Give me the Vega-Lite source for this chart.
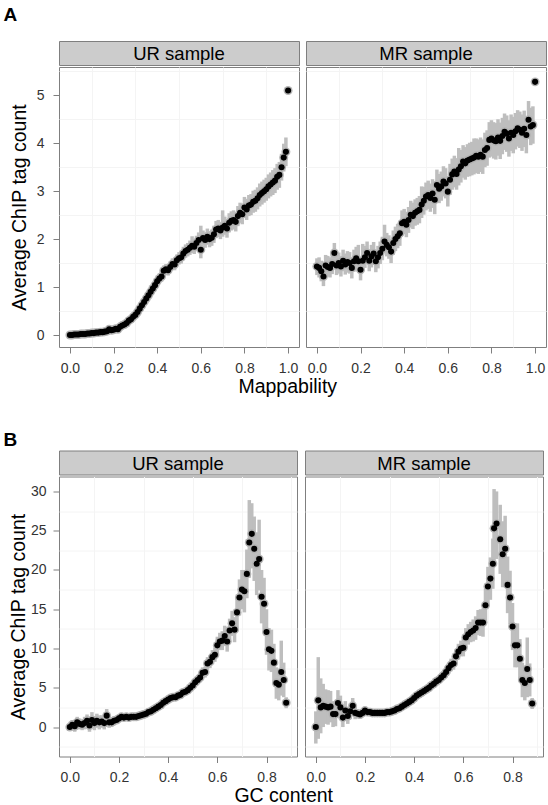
{
  "$schema": "https://vega.github.io/schema/vega-lite/v6.json",
  "background": "white",
  "padding": {"left": 3, "top": 5, "right": 2, "bottom": 0},
  "config": {
    "font": "Liberation Sans",
    "view": {"stroke": "#7f7f7f", "strokeWidth": 1},
    "axis": {
      "domain": false,
      "tickColor": "#7f7f7f",
      "tickSize": 6,
      "labelFontSize": 14,
      "labelColor": "#333333",
      "labelPadding": 9,
      "titleFontSize": 19.5,
      "titleFontWeight": "normal",
      "titleColor": "black",
      "titlePadding": 2,
      "gridColor": "#e6e6e6",
      "gridWidth": 1
    },
    "axisX": {"labelPadding": 8}
  },
  "datasets": {
    "map": [
      {"s":"UR","x":0.00,"y":0.00,"lo":-0.02,"hi":0.02},
      {"s":"UR","x":0.01,"y":0.00,"lo":-0.02,"hi":0.02},
      {"s":"UR","x":0.02,"y":0.01,"lo":-0.01,"hi":0.03},
      {"s":"UR","x":0.03,"y":0.01,"lo":-0.01,"hi":0.03},
      {"s":"UR","x":0.04,"y":0.01,"lo":-0.01,"hi":0.03},
      {"s":"UR","x":0.05,"y":0.02,"lo":0.00,"hi":0.04},
      {"s":"UR","x":0.06,"y":0.02,"lo":0.00,"hi":0.04},
      {"s":"UR","x":0.07,"y":0.02,"lo":0.00,"hi":0.04},
      {"s":"UR","x":0.08,"y":0.03,"lo":0.01,"hi":0.05},
      {"s":"UR","x":0.09,"y":0.03,"lo":0.01,"hi":0.05},
      {"s":"UR","x":0.10,"y":0.04,"lo":0.01,"hi":0.07},
      {"s":"UR","x":0.11,"y":0.04,"lo":0.01,"hi":0.07},
      {"s":"UR","x":0.12,"y":0.05,"lo":0.02,"hi":0.08},
      {"s":"UR","x":0.13,"y":0.05,"lo":0.02,"hi":0.08},
      {"s":"UR","x":0.14,"y":0.06,"lo":0.03,"hi":0.09},
      {"s":"UR","x":0.15,"y":0.06,"lo":0.03,"hi":0.09},
      {"s":"UR","x":0.16,"y":0.07,"lo":0.03,"hi":0.11},
      {"s":"UR","x":0.17,"y":0.08,"lo":0.04,"hi":0.12},
      {"s":"UR","x":0.18,"y":0.12,"lo":0.07,"hi":0.17},
      {"s":"UR","x":0.19,"y":0.10,"lo":0.05,"hi":0.15},
      {"s":"UR","x":0.20,"y":0.11,"lo":0.06,"hi":0.16},
      {"s":"UR","x":0.21,"y":0.13,"lo":0.08,"hi":0.18},
      {"s":"UR","x":0.22,"y":0.12,"lo":0.07,"hi":0.17},
      {"s":"UR","x":0.23,"y":0.17,"lo":0.11,"hi":0.23},
      {"s":"UR","x":0.24,"y":0.20,"lo":0.14,"hi":0.26},
      {"s":"UR","x":0.25,"y":0.22,"lo":0.16,"hi":0.28},
      {"s":"UR","x":0.26,"y":0.25,"lo":0.18,"hi":0.32},
      {"s":"UR","x":0.27,"y":0.30,"lo":0.23,"hi":0.37},
      {"s":"UR","x":0.28,"y":0.33,"lo":0.26,"hi":0.40},
      {"s":"UR","x":0.29,"y":0.38,"lo":0.30,"hi":0.46},
      {"s":"UR","x":0.30,"y":0.42,"lo":0.34,"hi":0.50},
      {"s":"UR","x":0.31,"y":0.48,"lo":0.40,"hi":0.56},
      {"s":"UR","x":0.32,"y":0.55,"lo":0.47,"hi":0.63},
      {"s":"UR","x":0.33,"y":0.62,"lo":0.53,"hi":0.71},
      {"s":"UR","x":0.34,"y":0.69,"lo":0.60,"hi":0.78},
      {"s":"UR","x":0.35,"y":0.76,"lo":0.67,"hi":0.85},
      {"s":"UR","x":0.36,"y":0.83,"lo":0.74,"hi":0.92},
      {"s":"UR","x":0.37,"y":0.90,"lo":0.81,"hi":0.99},
      {"s":"UR","x":0.38,"y":0.97,"lo":0.88,"hi":1.06},
      {"s":"UR","x":0.39,"y":1.04,"lo":0.94,"hi":1.14},
      {"s":"UR","x":0.40,"y":1.12,"lo":1.02,"hi":1.22},
      {"s":"UR","x":0.41,"y":1.18,"lo":1.08,"hi":1.28},
      {"s":"UR","x":0.42,"y":1.22,"lo":1.11,"hi":1.33},
      {"s":"UR","x":0.43,"y":1.34,"lo":1.23,"hi":1.45},
      {"s":"UR","x":0.44,"y":1.37,"lo":1.26,"hi":1.48},
      {"s":"UR","x":0.45,"y":1.35,"lo":1.24,"hi":1.46},
      {"s":"UR","x":0.46,"y":1.42,"lo":1.30,"hi":1.54},
      {"s":"UR","x":0.47,"y":1.48,"lo":1.36,"hi":1.60},
      {"s":"UR","x":0.48,"y":1.47,"lo":1.35,"hi":1.59},
      {"s":"UR","x":0.49,"y":1.56,"lo":1.44,"hi":1.68},
      {"s":"UR","x":0.50,"y":1.60,"lo":1.47,"hi":1.73},
      {"s":"UR","x":0.51,"y":1.62,"lo":1.49,"hi":1.75},
      {"s":"UR","x":0.52,"y":1.70,"lo":1.56,"hi":1.84},
      {"s":"UR","x":0.53,"y":1.75,"lo":1.61,"hi":1.89},
      {"s":"UR","x":0.54,"y":1.78,"lo":1.64,"hi":1.92},
      {"s":"UR","x":0.55,"y":1.82,"lo":1.67,"hi":1.97},
      {"s":"UR","x":0.56,"y":1.86,"lo":1.71,"hi":2.06},
      {"s":"UR","x":0.57,"y":1.84,"lo":1.69,"hi":1.99},
      {"s":"UR","x":0.58,"y":1.92,"lo":1.77,"hi":2.07},
      {"s":"UR","x":0.59,"y":1.98,"lo":1.82,"hi":2.14},
      {"s":"UR","x":0.60,"y":1.78,"lo":1.60,"hi":2.28},
      {"s":"UR","x":0.61,"y":2.02,"lo":1.86,"hi":2.18},
      {"s":"UR","x":0.62,"y":1.98,"lo":1.82,"hi":2.14},
      {"s":"UR","x":0.63,"y":2.05,"lo":1.88,"hi":2.22},
      {"s":"UR","x":0.64,"y":2.00,"lo":1.83,"hi":2.17},
      {"s":"UR","x":0.65,"y":2.03,"lo":1.86,"hi":2.20},
      {"s":"UR","x":0.66,"y":2.10,"lo":1.92,"hi":2.28},
      {"s":"UR","x":0.67,"y":2.20,"lo":2.02,"hi":2.38},
      {"s":"UR","x":0.68,"y":2.22,"lo":2.04,"hi":2.40},
      {"s":"UR","x":0.69,"y":2.18,"lo":2.00,"hi":2.36},
      {"s":"UR","x":0.70,"y":2.24,"lo":2.05,"hi":2.60},
      {"s":"UR","x":0.71,"y":2.28,"lo":2.09,"hi":2.47},
      {"s":"UR","x":0.72,"y":2.22,"lo":2.03,"hi":2.41},
      {"s":"UR","x":0.73,"y":2.34,"lo":2.14,"hi":2.54},
      {"s":"UR","x":0.74,"y":2.38,"lo":2.18,"hi":2.58},
      {"s":"UR","x":0.75,"y":2.40,"lo":2.20,"hi":2.60},
      {"s":"UR","x":0.76,"y":2.36,"lo":2.16,"hi":2.56},
      {"s":"UR","x":0.77,"y":2.48,"lo":2.27,"hi":2.69},
      {"s":"UR","x":0.78,"y":2.55,"lo":2.34,"hi":2.76},
      {"s":"UR","x":0.79,"y":2.52,"lo":2.31,"hi":2.73},
      {"s":"UR","x":0.80,"y":2.66,"lo":2.44,"hi":2.88},
      {"s":"UR","x":0.81,"y":2.62,"lo":2.40,"hi":2.84},
      {"s":"UR","x":0.82,"y":2.70,"lo":2.48,"hi":2.92},
      {"s":"UR","x":0.83,"y":2.72,"lo":2.50,"hi":2.94},
      {"s":"UR","x":0.84,"y":2.78,"lo":2.55,"hi":3.01},
      {"s":"UR","x":0.85,"y":2.80,"lo":2.57,"hi":3.03},
      {"s":"UR","x":0.86,"y":2.85,"lo":2.62,"hi":3.08},
      {"s":"UR","x":0.87,"y":2.92,"lo":2.68,"hi":3.16},
      {"s":"UR","x":0.88,"y":2.96,"lo":2.72,"hi":3.20},
      {"s":"UR","x":0.89,"y":3.00,"lo":2.76,"hi":3.24},
      {"s":"UR","x":0.90,"y":3.04,"lo":2.80,"hi":3.28},
      {"s":"UR","x":0.91,"y":3.10,"lo":2.85,"hi":3.35},
      {"s":"UR","x":0.92,"y":3.14,"lo":2.89,"hi":3.39},
      {"s":"UR","x":0.93,"y":3.18,"lo":2.92,"hi":3.44},
      {"s":"UR","x":0.94,"y":3.22,"lo":2.96,"hi":3.48},
      {"s":"UR","x":0.95,"y":3.30,"lo":3.03,"hi":3.57},
      {"s":"UR","x":0.96,"y":3.34,"lo":3.07,"hi":3.61},
      {"s":"UR","x":0.97,"y":3.50,"lo":3.22,"hi":3.78},
      {"s":"UR","x":0.98,"y":3.70,"lo":3.41,"hi":3.99},
      {"s":"UR","x":0.99,"y":3.82,"lo":3.52,"hi":4.12},
      {"s":"UR","x":1.00,"y":5.10,"lo":5.05,"hi":5.15},
      {"s":"MR","x":0.00,"y":1.43,"lo":1.25,"hi":1.60},
      {"s":"MR","x":0.01,"y":1.40,"lo":1.20,"hi":1.62},
      {"s":"MR","x":0.02,"y":1.33,"lo":1.12,"hi":1.55},
      {"s":"MR","x":0.03,"y":1.22,"lo":1.02,"hi":1.42},
      {"s":"MR","x":0.04,"y":1.45,"lo":1.25,"hi":1.67},
      {"s":"MR","x":0.05,"y":1.42,"lo":1.22,"hi":1.65},
      {"s":"MR","x":0.06,"y":1.40,"lo":1.20,"hi":1.62},
      {"s":"MR","x":0.07,"y":1.48,"lo":1.27,"hi":1.70},
      {"s":"MR","x":0.08,"y":1.71,"lo":1.50,"hi":1.92},
      {"s":"MR","x":0.09,"y":1.45,"lo":1.25,"hi":1.70},
      {"s":"MR","x":0.10,"y":1.50,"lo":1.28,"hi":1.72},
      {"s":"MR","x":0.11,"y":1.43,"lo":1.22,"hi":1.65},
      {"s":"MR","x":0.12,"y":1.55,"lo":1.33,"hi":1.78},
      {"s":"MR","x":0.13,"y":1.47,"lo":1.26,"hi":1.70},
      {"s":"MR","x":0.14,"y":1.52,"lo":1.30,"hi":1.75},
      {"s":"MR","x":0.15,"y":1.50,"lo":1.28,"hi":1.73},
      {"s":"MR","x":0.16,"y":1.40,"lo":1.18,"hi":1.62},
      {"s":"MR","x":0.17,"y":1.54,"lo":1.32,"hi":1.78},
      {"s":"MR","x":0.18,"y":1.60,"lo":1.38,"hi":1.84},
      {"s":"MR","x":0.19,"y":1.54,"lo":1.32,"hi":1.88},
      {"s":"MR","x":0.20,"y":1.36,"lo":1.14,"hi":1.58},
      {"s":"MR","x":0.21,"y":1.55,"lo":1.33,"hi":1.90},
      {"s":"MR","x":0.22,"y":1.62,"lo":1.40,"hi":1.86},
      {"s":"MR","x":0.23,"y":1.71,"lo":1.48,"hi":1.95},
      {"s":"MR","x":0.24,"y":1.55,"lo":1.33,"hi":1.78},
      {"s":"MR","x":0.25,"y":1.64,"lo":1.41,"hi":1.88},
      {"s":"MR","x":0.26,"y":1.70,"lo":1.47,"hi":1.94},
      {"s":"MR","x":0.27,"y":1.54,"lo":1.31,"hi":1.78},
      {"s":"MR","x":0.28,"y":1.62,"lo":1.39,"hi":1.86},
      {"s":"MR","x":0.29,"y":1.71,"lo":1.48,"hi":1.95},
      {"s":"MR","x":0.30,"y":1.80,"lo":1.56,"hi":2.05},
      {"s":"MR","x":0.31,"y":1.95,"lo":1.71,"hi":2.30},
      {"s":"MR","x":0.32,"y":1.88,"lo":1.64,"hi":2.13},
      {"s":"MR","x":0.33,"y":1.83,"lo":1.59,"hi":2.08},
      {"s":"MR","x":0.34,"y":1.74,"lo":1.50,"hi":1.99},
      {"s":"MR","x":0.35,"y":1.92,"lo":1.67,"hi":2.18},
      {"s":"MR","x":0.36,"y":2.00,"lo":1.75,"hi":2.26},
      {"s":"MR","x":0.37,"y":2.06,"lo":1.81,"hi":2.32},
      {"s":"MR","x":0.38,"y":2.12,"lo":1.86,"hi":2.38},
      {"s":"MR","x":0.39,"y":2.33,"lo":2.07,"hi":2.60},
      {"s":"MR","x":0.40,"y":2.36,"lo":2.10,"hi":2.63},
      {"s":"MR","x":0.41,"y":2.30,"lo":2.04,"hi":2.57},
      {"s":"MR","x":0.42,"y":2.40,"lo":2.13,"hi":2.67},
      {"s":"MR","x":0.43,"y":2.51,"lo":2.24,"hi":2.80},
      {"s":"MR","x":0.44,"y":2.48,"lo":2.21,"hi":2.76},
      {"s":"MR","x":0.45,"y":2.55,"lo":2.28,"hi":2.83},
      {"s":"MR","x":0.46,"y":2.58,"lo":2.30,"hi":2.86},
      {"s":"MR","x":0.47,"y":2.61,"lo":2.33,"hi":2.90},
      {"s":"MR","x":0.48,"y":2.72,"lo":2.44,"hi":3.10},
      {"s":"MR","x":0.49,"y":2.80,"lo":2.51,"hi":3.09},
      {"s":"MR","x":0.50,"y":2.89,"lo":2.60,"hi":3.18},
      {"s":"MR","x":0.51,"y":2.92,"lo":2.63,"hi":3.22},
      {"s":"MR","x":0.52,"y":2.86,"lo":2.57,"hi":3.16},
      {"s":"MR","x":0.53,"y":2.95,"lo":2.65,"hi":3.25},
      {"s":"MR","x":0.54,"y":2.82,"lo":2.52,"hi":3.12},
      {"s":"MR","x":0.55,"y":3.13,"lo":2.83,"hi":3.45},
      {"s":"MR","x":0.56,"y":3.05,"lo":2.75,"hi":3.36},
      {"s":"MR","x":0.57,"y":3.10,"lo":2.80,"hi":3.41},
      {"s":"MR","x":0.58,"y":3.20,"lo":2.89,"hi":3.52},
      {"s":"MR","x":0.59,"y":3.16,"lo":2.85,"hi":3.48},
      {"s":"MR","x":0.60,"y":2.99,"lo":2.68,"hi":3.31},
      {"s":"MR","x":0.61,"y":3.24,"lo":2.92,"hi":3.57},
      {"s":"MR","x":0.62,"y":3.35,"lo":3.03,"hi":3.68},
      {"s":"MR","x":0.63,"y":3.41,"lo":3.08,"hi":3.74},
      {"s":"MR","x":0.64,"y":3.36,"lo":3.03,"hi":3.69},
      {"s":"MR","x":0.65,"y":3.45,"lo":3.12,"hi":3.90},
      {"s":"MR","x":0.66,"y":3.52,"lo":3.18,"hi":3.86},
      {"s":"MR","x":0.67,"y":3.62,"lo":3.28,"hi":3.96},
      {"s":"MR","x":0.68,"y":3.58,"lo":3.24,"hi":3.92},
      {"s":"MR","x":0.69,"y":3.64,"lo":3.30,"hi":3.98},
      {"s":"MR","x":0.70,"y":3.66,"lo":3.31,"hi":4.01},
      {"s":"MR","x":0.71,"y":3.68,"lo":3.33,"hi":4.03},
      {"s":"MR","x":0.72,"y":3.70,"lo":3.35,"hi":4.10},
      {"s":"MR","x":0.73,"y":3.74,"lo":3.38,"hi":4.10},
      {"s":"MR","x":0.74,"y":3.72,"lo":3.36,"hi":4.08},
      {"s":"MR","x":0.75,"y":3.76,"lo":3.40,"hi":4.12},
      {"s":"MR","x":0.76,"y":3.72,"lo":3.36,"hi":4.08},
      {"s":"MR","x":0.77,"y":3.86,"lo":3.50,"hi":4.22},
      {"s":"MR","x":0.78,"y":3.90,"lo":3.53,"hi":4.27},
      {"s":"MR","x":0.79,"y":4.07,"lo":3.70,"hi":4.44},
      {"s":"MR","x":0.80,"y":4.10,"lo":3.72,"hi":4.48},
      {"s":"MR","x":0.81,"y":4.06,"lo":3.68,"hi":4.44},
      {"s":"MR","x":0.82,"y":4.04,"lo":3.66,"hi":4.42},
      {"s":"MR","x":0.83,"y":4.12,"lo":3.74,"hi":4.50},
      {"s":"MR","x":0.84,"y":4.05,"lo":3.67,"hi":4.43},
      {"s":"MR","x":0.85,"y":4.15,"lo":3.77,"hi":4.53},
      {"s":"MR","x":0.86,"y":4.24,"lo":3.86,"hi":4.62},
      {"s":"MR","x":0.87,"y":4.20,"lo":3.82,"hi":4.58},
      {"s":"MR","x":0.88,"y":4.10,"lo":3.72,"hi":4.48},
      {"s":"MR","x":0.89,"y":4.22,"lo":3.84,"hi":4.60},
      {"s":"MR","x":0.90,"y":4.17,"lo":3.79,"hi":4.55},
      {"s":"MR","x":0.91,"y":4.25,"lo":3.87,"hi":4.63},
      {"s":"MR","x":0.92,"y":4.31,"lo":3.93,"hi":4.69},
      {"s":"MR","x":0.93,"y":4.28,"lo":3.90,"hi":4.66},
      {"s":"MR","x":0.94,"y":4.22,"lo":3.84,"hi":4.60},
      {"s":"MR","x":0.95,"y":4.30,"lo":3.92,"hi":4.68},
      {"s":"MR","x":0.96,"y":4.17,"lo":3.79,"hi":4.55},
      {"s":"MR","x":0.97,"y":4.49,"lo":4.10,"hi":4.88},
      {"s":"MR","x":0.98,"y":4.35,"lo":3.96,"hi":4.74},
      {"s":"MR","x":0.99,"y":4.38,"lo":3.99,"hi":4.77},
      {"s":"MR","x":1.00,"y":5.28,"lo":5.23,"hi":5.33}
    ],
    "gc": [
      {"s":"UR","x":0.00,"y":0.0,"lo":-0.5,"hi":0.5},
      {"s":"UR","x":0.01,"y":0.3,"lo":-0.3,"hi":0.9},
      {"s":"UR","x":0.02,"y":0.1,"lo":-0.6,"hi":0.8},
      {"s":"UR","x":0.03,"y":0.6,"lo":-0.1,"hi":1.3},
      {"s":"UR","x":0.04,"y":0.4,"lo":-0.3,"hi":1.1},
      {"s":"UR","x":0.05,"y":0.3,"lo":-0.4,"hi":1.0},
      {"s":"UR","x":0.06,"y":0.5,"lo":-0.3,"hi":1.3},
      {"s":"UR","x":0.07,"y":0.8,"lo":0.0,"hi":1.6},
      {"s":"UR","x":0.08,"y":0.2,"lo":-0.6,"hi":1.0},
      {"s":"UR","x":0.09,"y":0.9,"lo":-0.1,"hi":1.9},
      {"s":"UR","x":0.10,"y":0.5,"lo":-0.4,"hi":1.4},
      {"s":"UR","x":0.11,"y":0.8,"lo":-0.1,"hi":1.7},
      {"s":"UR","x":0.12,"y":0.6,"lo":-0.3,"hi":1.5},
      {"s":"UR","x":0.13,"y":0.7,"lo":-0.1,"hi":1.5},
      {"s":"UR","x":0.14,"y":0.5,"lo":-0.3,"hi":1.3},
      {"s":"UR","x":0.15,"y":1.45,"lo":0.6,"hi":2.3},
      {"s":"UR","x":0.16,"y":0.6,"lo":-0.1,"hi":1.3},
      {"s":"UR","x":0.17,"y":0.6,"lo":0.0,"hi":1.2},
      {"s":"UR","x":0.18,"y":0.8,"lo":0.2,"hi":1.4},
      {"s":"UR","x":0.19,"y":0.9,"lo":0.4,"hi":1.4},
      {"s":"UR","x":0.20,"y":1.1,"lo":0.6,"hi":1.6},
      {"s":"UR","x":0.21,"y":1.3,"lo":0.9,"hi":1.7},
      {"s":"UR","x":0.22,"y":1.2,"lo":0.8,"hi":1.6},
      {"s":"UR","x":0.23,"y":1.3,"lo":0.9,"hi":1.7},
      {"s":"UR","x":0.24,"y":1.2,"lo":0.9,"hi":1.5},
      {"s":"UR","x":0.25,"y":1.3,"lo":1.0,"hi":1.6},
      {"s":"UR","x":0.26,"y":1.3,"lo":1.0,"hi":1.6},
      {"s":"UR","x":0.27,"y":1.3,"lo":1.0,"hi":1.6},
      {"s":"UR","x":0.28,"y":1.4,"lo":1.1,"hi":1.7},
      {"s":"UR","x":0.29,"y":1.5,"lo":1.2,"hi":1.8},
      {"s":"UR","x":0.30,"y":1.6,"lo":1.3,"hi":1.9},
      {"s":"UR","x":0.31,"y":1.7,"lo":1.4,"hi":2.0},
      {"s":"UR","x":0.32,"y":1.9,"lo":1.6,"hi":2.2},
      {"s":"UR","x":0.33,"y":2.0,"lo":1.7,"hi":2.3},
      {"s":"UR","x":0.34,"y":2.2,"lo":1.9,"hi":2.5},
      {"s":"UR","x":0.35,"y":2.4,"lo":2.1,"hi":2.7},
      {"s":"UR","x":0.36,"y":2.6,"lo":2.3,"hi":2.9},
      {"s":"UR","x":0.37,"y":2.8,"lo":2.5,"hi":3.1},
      {"s":"UR","x":0.38,"y":3.1,"lo":2.8,"hi":3.4},
      {"s":"UR","x":0.39,"y":3.3,"lo":3.0,"hi":3.6},
      {"s":"UR","x":0.40,"y":3.5,"lo":3.2,"hi":3.8},
      {"s":"UR","x":0.41,"y":3.7,"lo":3.3,"hi":4.1},
      {"s":"UR","x":0.42,"y":3.8,"lo":3.4,"hi":4.2},
      {"s":"UR","x":0.43,"y":3.8,"lo":3.4,"hi":4.2},
      {"s":"UR","x":0.44,"y":4.0,"lo":3.6,"hi":4.4},
      {"s":"UR","x":0.45,"y":4.1,"lo":3.7,"hi":4.5},
      {"s":"UR","x":0.46,"y":4.4,"lo":4.0,"hi":4.8},
      {"s":"UR","x":0.47,"y":4.5,"lo":4.1,"hi":4.9},
      {"s":"UR","x":0.48,"y":4.7,"lo":4.2,"hi":5.2},
      {"s":"UR","x":0.49,"y":5.0,"lo":4.5,"hi":5.5},
      {"s":"UR","x":0.50,"y":5.3,"lo":4.8,"hi":5.8},
      {"s":"UR","x":0.51,"y":5.7,"lo":5.2,"hi":6.2},
      {"s":"UR","x":0.52,"y":6.0,"lo":5.4,"hi":6.6},
      {"s":"UR","x":0.53,"y":6.3,"lo":5.7,"hi":6.9},
      {"s":"UR","x":0.54,"y":6.9,"lo":6.2,"hi":7.6},
      {"s":"UR","x":0.55,"y":7.0,"lo":6.3,"hi":7.7},
      {"s":"UR","x":0.56,"y":8.1,"lo":7.3,"hi":8.9},
      {"s":"UR","x":0.57,"y":8.3,"lo":7.5,"hi":9.1},
      {"s":"UR","x":0.58,"y":8.9,"lo":8.0,"hi":9.8},
      {"s":"UR","x":0.59,"y":9.2,"lo":8.3,"hi":10.1},
      {"s":"UR","x":0.60,"y":10.4,"lo":9.3,"hi":11.5},
      {"s":"UR","x":0.61,"y":10.9,"lo":9.8,"hi":12.0},
      {"s":"UR","x":0.62,"y":11.0,"lo":9.8,"hi":12.2},
      {"s":"UR","x":0.63,"y":11.6,"lo":10.3,"hi":12.9},
      {"s":"UR","x":0.64,"y":10.9,"lo":9.6,"hi":12.2},
      {"s":"UR","x":0.65,"y":12.3,"lo":10.8,"hi":13.8},
      {"s":"UR","x":0.66,"y":13.2,"lo":11.6,"hi":14.8},
      {"s":"UR","x":0.67,"y":12.4,"lo":10.8,"hi":14.0},
      {"s":"UR","x":0.68,"y":14.6,"lo":12.6,"hi":16.6},
      {"s":"UR","x":0.69,"y":16.5,"lo":14.2,"hi":18.8},
      {"s":"UR","x":0.70,"y":17.5,"lo":15.0,"hi":20.0},
      {"s":"UR","x":0.71,"y":17.3,"lo":14.6,"hi":20.0},
      {"s":"UR","x":0.72,"y":19.5,"lo":16.4,"hi":22.6},
      {"s":"UR","x":0.73,"y":23.5,"lo":19.0,"hi":28.9},
      {"s":"UR","x":0.74,"y":24.6,"lo":20.2,"hi":28.5},
      {"s":"UR","x":0.75,"y":22.7,"lo":18.6,"hi":26.8},
      {"s":"UR","x":0.76,"y":20.8,"lo":16.8,"hi":24.8},
      {"s":"UR","x":0.77,"y":21.4,"lo":17.4,"hi":26.4},
      {"s":"UR","x":0.78,"y":16.6,"lo":13.2,"hi":20.0},
      {"s":"UR","x":0.79,"y":15.7,"lo":12.4,"hi":19.0},
      {"s":"UR","x":0.80,"y":12.1,"lo":9.2,"hi":15.0},
      {"s":"UR","x":0.81,"y":9.9,"lo":7.2,"hi":12.6},
      {"s":"UR","x":0.82,"y":9.7,"lo":7.0,"hi":12.4},
      {"s":"UR","x":0.83,"y":8.2,"lo":5.8,"hi":10.6},
      {"s":"UR","x":0.84,"y":5.6,"lo":3.6,"hi":7.6},
      {"s":"UR","x":0.85,"y":5.4,"lo":3.4,"hi":7.4},
      {"s":"UR","x":0.86,"y":7.0,"lo":4.0,"hi":11.0},
      {"s":"UR","x":0.87,"y":6.0,"lo":3.8,"hi":8.2},
      {"s":"UR","x":0.88,"y":3.1,"lo":2.4,"hi":3.8},
      {"s":"MR","x":0.00,"y":0.0,"lo":-2.1,"hi":2.0},
      {"s":"MR","x":0.01,"y":3.4,"lo":-1.5,"hi":8.9},
      {"s":"MR","x":0.02,"y":2.5,"lo":-0.8,"hi":6.2},
      {"s":"MR","x":0.03,"y":2.7,"lo":0.0,"hi":5.5},
      {"s":"MR","x":0.04,"y":2.6,"lo":0.4,"hi":4.8},
      {"s":"MR","x":0.05,"y":2.5,"lo":0.3,"hi":4.7},
      {"s":"MR","x":0.06,"y":2.6,"lo":0.6,"hi":4.6},
      {"s":"MR","x":0.07,"y":1.65,"lo":0.0,"hi":3.3},
      {"s":"MR","x":0.08,"y":1.65,"lo":0.1,"hi":3.2},
      {"s":"MR","x":0.09,"y":3.06,"lo":1.4,"hi":4.7},
      {"s":"MR","x":0.10,"y":2.5,"lo":1.0,"hi":4.0},
      {"s":"MR","x":0.11,"y":1.2,"lo":0.0,"hi":2.4},
      {"s":"MR","x":0.12,"y":2.1,"lo":0.9,"hi":3.3},
      {"s":"MR","x":0.13,"y":1.4,"lo":0.4,"hi":2.4},
      {"s":"MR","x":0.14,"y":2.0,"lo":1.0,"hi":3.0},
      {"s":"MR","x":0.15,"y":2.7,"lo":1.7,"hi":3.7},
      {"s":"MR","x":0.16,"y":1.8,"lo":1.0,"hi":2.6},
      {"s":"MR","x":0.17,"y":1.7,"lo":1.1,"hi":2.3},
      {"s":"MR","x":0.18,"y":1.6,"lo":1.1,"hi":2.1},
      {"s":"MR","x":0.19,"y":1.8,"lo":1.4,"hi":2.2},
      {"s":"MR","x":0.20,"y":2.1,"lo":1.7,"hi":2.5},
      {"s":"MR","x":0.21,"y":1.9,"lo":1.6,"hi":2.2},
      {"s":"MR","x":0.22,"y":1.9,"lo":1.6,"hi":2.2},
      {"s":"MR","x":0.23,"y":1.8,"lo":1.5,"hi":2.1},
      {"s":"MR","x":0.24,"y":1.8,"lo":1.5,"hi":2.1},
      {"s":"MR","x":0.25,"y":1.8,"lo":1.5,"hi":2.1},
      {"s":"MR","x":0.26,"y":1.8,"lo":1.5,"hi":2.1},
      {"s":"MR","x":0.27,"y":1.8,"lo":1.5,"hi":2.1},
      {"s":"MR","x":0.28,"y":1.8,"lo":1.5,"hi":2.1},
      {"s":"MR","x":0.29,"y":1.9,"lo":1.6,"hi":2.2},
      {"s":"MR","x":0.30,"y":1.9,"lo":1.6,"hi":2.2},
      {"s":"MR","x":0.31,"y":2.0,"lo":1.7,"hi":2.3},
      {"s":"MR","x":0.32,"y":2.1,"lo":1.8,"hi":2.4},
      {"s":"MR","x":0.33,"y":2.3,"lo":2.0,"hi":2.6},
      {"s":"MR","x":0.34,"y":2.4,"lo":2.1,"hi":2.7},
      {"s":"MR","x":0.35,"y":2.6,"lo":2.3,"hi":2.9},
      {"s":"MR","x":0.36,"y":2.8,"lo":2.5,"hi":3.1},
      {"s":"MR","x":0.37,"y":3.0,"lo":2.7,"hi":3.3},
      {"s":"MR","x":0.38,"y":3.2,"lo":2.9,"hi":3.5},
      {"s":"MR","x":0.39,"y":3.4,"lo":3.1,"hi":3.7},
      {"s":"MR","x":0.40,"y":3.7,"lo":3.4,"hi":4.0},
      {"s":"MR","x":0.41,"y":4.0,"lo":3.6,"hi":4.4},
      {"s":"MR","x":0.42,"y":4.2,"lo":3.8,"hi":4.6},
      {"s":"MR","x":0.43,"y":4.4,"lo":4.0,"hi":4.8},
      {"s":"MR","x":0.44,"y":4.6,"lo":4.2,"hi":5.0},
      {"s":"MR","x":0.45,"y":4.8,"lo":4.4,"hi":5.2},
      {"s":"MR","x":0.46,"y":5.0,"lo":4.6,"hi":5.4},
      {"s":"MR","x":0.47,"y":5.3,"lo":4.8,"hi":5.8},
      {"s":"MR","x":0.48,"y":5.5,"lo":5.0,"hi":6.0},
      {"s":"MR","x":0.49,"y":5.8,"lo":5.3,"hi":6.3},
      {"s":"MR","x":0.50,"y":6.0,"lo":5.5,"hi":6.5},
      {"s":"MR","x":0.51,"y":6.3,"lo":5.7,"hi":6.9},
      {"s":"MR","x":0.52,"y":6.6,"lo":6.0,"hi":7.2},
      {"s":"MR","x":0.53,"y":7.0,"lo":6.3,"hi":7.7},
      {"s":"MR","x":0.54,"y":7.5,"lo":6.8,"hi":8.2},
      {"s":"MR","x":0.55,"y":7.9,"lo":7.1,"hi":8.7},
      {"s":"MR","x":0.56,"y":8.1,"lo":7.3,"hi":8.9},
      {"s":"MR","x":0.57,"y":9.0,"lo":8.1,"hi":9.9},
      {"s":"MR","x":0.58,"y":9.6,"lo":8.6,"hi":10.6},
      {"s":"MR","x":0.59,"y":10.0,"lo":9.0,"hi":11.0},
      {"s":"MR","x":0.60,"y":10.1,"lo":9.0,"hi":11.2},
      {"s":"MR","x":0.61,"y":11.4,"lo":10.2,"hi":12.6},
      {"s":"MR","x":0.62,"y":11.8,"lo":10.5,"hi":13.1},
      {"s":"MR","x":0.63,"y":12.1,"lo":10.8,"hi":13.4},
      {"s":"MR","x":0.64,"y":12.3,"lo":10.9,"hi":13.7},
      {"s":"MR","x":0.65,"y":12.6,"lo":11.1,"hi":14.1},
      {"s":"MR","x":0.66,"y":13.3,"lo":11.7,"hi":14.9},
      {"s":"MR","x":0.67,"y":13.3,"lo":11.6,"hi":15.0},
      {"s":"MR","x":0.68,"y":13.3,"lo":11.5,"hi":15.1},
      {"s":"MR","x":0.69,"y":15.5,"lo":13.4,"hi":17.6},
      {"s":"MR","x":0.70,"y":17.9,"lo":15.4,"hi":20.4},
      {"s":"MR","x":0.71,"y":18.9,"lo":16.2,"hi":21.6},
      {"s":"MR","x":0.72,"y":20.8,"lo":17.6,"hi":24.0},
      {"s":"MR","x":0.725,"y":25.3,"lo":20.6,"hi":30.3},
      {"s":"MR","x":0.735,"y":25.9,"lo":21.4,"hi":30.0},
      {"s":"MR","x":0.75,"y":23.9,"lo":19.5,"hi":28.3},
      {"s":"MR","x":0.76,"y":22.0,"lo":17.8,"hi":26.2},
      {"s":"MR","x":0.77,"y":22.7,"lo":18.5,"hi":26.9},
      {"s":"MR","x":0.78,"y":18.1,"lo":14.5,"hi":21.7},
      {"s":"MR","x":0.79,"y":16.5,"lo":13.1,"hi":19.9},
      {"s":"MR","x":0.80,"y":12.8,"lo":9.8,"hi":15.8},
      {"s":"MR","x":0.81,"y":10.4,"lo":7.6,"hi":13.2},
      {"s":"MR","x":0.82,"y":10.4,"lo":7.6,"hi":13.2},
      {"s":"MR","x":0.83,"y":8.7,"lo":6.2,"hi":11.2},
      {"s":"MR","x":0.84,"y":6.0,"lo":3.8,"hi":8.2},
      {"s":"MR","x":0.85,"y":5.6,"lo":3.4,"hi":7.8},
      {"s":"MR","x":0.86,"y":7.4,"lo":3.8,"hi":11.4},
      {"s":"MR","x":0.87,"y":6.0,"lo":3.9,"hi":8.1},
      {"s":"MR","x":0.88,"y":3.0,"lo":2.3,"hi":3.7}
    ]
  },
  "columns": 1,
  "align": "none",
  "spacing": 34.5,
  "concat": [
    {
      "title": {"text": "A", "anchor": "start", "frame": "bounds", "fontSize": 19, "fontWeight": "bold", "color": "black", "offset": 16, "dx": -5.5},
      "vconcat": [
        {
          "title": {"text": "Mappability", "orient": "bottom", "anchor": "middle", "frame": "bounds", "fontSize": 19.5, "fontWeight": "normal", "color": "black", "offset": 2, "dx": 10},
          "spacing": 5,
          "hconcat": [
            {
              "spacing": 0,
              "vconcat": [
                {
                  "width": 240, "height": 24,
                  "data": {"values": [{"label": "UR sample"}]},
                  "mark": {"type": "text", "fontSize": 18.5, "color": "black", "baseline": "middle", "dy": 1},
                  "encoding": {"text": {"field": "label"}},
                  "view": {"fill": "#cccccc", "stroke": "#7f7f7f"}
                },
                {
                  "width": 240, "height": 280,
                  "data": {"name": "map"},
                  "transform": [{"filter": "datum.s == 'UR'"}],
                  "layer": [
                    {
                      "mark": {"type": "rule", "color": "#bebebe", "strokeWidth": 3.5},
                      "encoding": {
                        "x": {"field": "x", "type": "quantitative", "scale": {"domain": [-0.05, 1.05], "nice": false, "zero": false},
                              "axis": {"orient": "top", "values": [0.1, 0.3, 0.5, 0.7, 0.9], "labels": false, "ticks": false, "domain": false, "title": null, "gridColor": "#f4f4f4"}},
                        "y": {"field": "lo", "type": "quantitative", "scale": {"domain": [-0.25, 5.59], "nice": false, "zero": false},
                              "axis": {"orient": "right", "values": [0.5, 1.5, 2.5, 3.5, 4.5, 5.5], "labels": false, "ticks": false, "domain": false, "title": null, "gridColor": "#f4f4f4"}},
                        "y2": {"field": "hi"}
                      }
                    },
                    {
                      "mark": {"type": "circle", "color": "#b3b3b3", "opacity": 1, "size": 80},
                      "encoding": {
                        "x": {"field": "x", "type": "quantitative", "axis": {"orient": "bottom", "values": [0, 0.2, 0.4, 0.6, 0.8, 1], "format": ".1f", "title": null}},
                        "y": {"field": "y", "type": "quantitative", "axis": {"orient": "left", "values": [0, 1, 2, 3, 4, 5], "format": "d", "title": "Average ChIP tag count", "minExtent": 27.5, "maxExtent": 27.5}}
                      }
                    },
                    {
                      "mark": {"type": "circle", "color": "black", "opacity": 1, "size": 37},
                      "encoding": {
                        "x": {"field": "x", "type": "quantitative", "axis": null},
                        "y": {"field": "y", "type": "quantitative", "axis": null}
                      }
                    }
                  ],
                  "resolve": {"axis": {"x": "independent", "y": "independent"}}
                }
              ]
            },
            {
              "spacing": 0,
              "vconcat": [
                {
                  "width": 240, "height": 24,
                  "data": {"values": [{"label": "MR sample"}]},
                  "mark": {"type": "text", "fontSize": 18.5, "color": "black", "baseline": "middle", "dy": 1},
                  "encoding": {"text": {"field": "label"}},
                  "view": {"fill": "#cccccc", "stroke": "#7f7f7f"}
                },
                {
                  "width": 240, "height": 280,
                  "data": {"name": "map"},
                  "transform": [{"filter": "datum.s == 'MR'"}],
                  "layer": [
                    {
                      "mark": {"type": "rule", "color": "#bebebe", "strokeWidth": 3.5},
                      "encoding": {
                        "x": {"field": "x", "type": "quantitative", "scale": {"domain": [-0.05, 1.05], "nice": false, "zero": false},
                              "axis": {"orient": "top", "values": [0.1, 0.3, 0.5, 0.7, 0.9], "labels": false, "ticks": false, "domain": false, "title": null, "gridColor": "#f4f4f4"}},
                        "y": {"field": "lo", "type": "quantitative", "scale": {"domain": [-0.25, 5.59], "nice": false, "zero": false},
                              "axis": {"orient": "right", "values": [0.5, 1.5, 2.5, 3.5, 4.5, 5.5], "labels": false, "ticks": false, "domain": false, "title": null, "gridColor": "#f4f4f4"}},
                        "y2": {"field": "hi"}
                      }
                    },
                    {
                      "mark": {"type": "circle", "color": "#b3b3b3", "opacity": 1, "size": 80},
                      "encoding": {
                        "x": {"field": "x", "type": "quantitative", "axis": {"orient": "bottom", "values": [0, 0.2, 0.4, 0.6, 0.8, 1], "format": ".1f", "title": null}},
                        "y": {"field": "y", "type": "quantitative", "axis": {"orient": "left", "values": [0, 1, 2, 3, 4, 5], "labels": false, "ticks": false, "title": null}}
                      }
                    },
                    {
                      "mark": {"type": "circle", "color": "black", "opacity": 1, "size": 37},
                      "encoding": {
                        "x": {"field": "x", "type": "quantitative", "axis": null},
                        "y": {"field": "y", "type": "quantitative", "axis": null}
                      }
                    }
                  ],
                  "resolve": {"axis": {"x": "independent", "y": "independent"}}
                }
              ]
            }
          ]
        }
      ]
    },
    {
      "title": {"text": "B", "anchor": "start", "frame": "bounds", "fontSize": 19, "fontWeight": "bold", "color": "black", "offset": 0, "dx": -4.4},
      "vconcat": [
        {
          "title": {"text": "GC content", "orient": "bottom", "anchor": "middle", "frame": "bounds", "fontSize": 19.5, "fontWeight": "normal", "color": "black", "offset": 2, "dx": 8},
          "spacing": 6,
          "hconcat": [
            {
              "spacing": 0,
              "vconcat": [
                {
                  "width": 238, "height": 24,
                  "data": {"values": [{"label": "UR sample"}]},
                  "mark": {"type": "text", "fontSize": 18.5, "color": "black", "baseline": "middle", "dy": 1},
                  "encoding": {"text": {"field": "label"}},
                  "view": {"fill": "#cccccc", "stroke": "#7f7f7f"}
                },
                {
                  "width": 238, "height": 280,
                  "data": {"name": "gc"},
                  "transform": [{"filter": "datum.s == 'UR'"}],
                  "layer": [
                    {
                      "mark": {"type": "rule", "color": "#bebebe", "strokeWidth": 3.5},
                      "encoding": {
                        "x": {"field": "x", "type": "quantitative", "scale": {"domain": [-0.044, 0.924], "nice": false, "zero": false},
                              "axis": {"orient": "top", "values": [0.1, 0.3, 0.5, 0.7, 0.9], "labels": false, "ticks": false, "domain": false, "title": null, "gridColor": "#f4f4f4"}},
                        "y": {"field": "lo", "type": "quantitative", "scale": {"domain": [-3.75, 31.9], "nice": false, "zero": false},
                              "axis": {"orient": "right", "values": [-2.5, 2.5, 7.5, 12.5, 17.5, 22.5, 27.5], "labels": false, "ticks": false, "domain": false, "title": null, "gridColor": "#f4f4f4"}},
                        "y2": {"field": "hi"}
                      }
                    },
                    {
                      "mark": {"type": "circle", "color": "#b3b3b3", "opacity": 1, "size": 80},
                      "encoding": {
                        "x": {"field": "x", "type": "quantitative", "axis": {"orient": "bottom", "values": [0, 0.2, 0.4, 0.6, 0.8], "format": ".1f", "title": null}},
                        "y": {"field": "y", "type": "quantitative", "axis": {"orient": "left", "values": [0, 5, 10, 15, 20, 25, 30], "format": "d", "title": "Average ChIP tag count", "labelPadding": 7}}
                      }
                    },
                    {
                      "mark": {"type": "circle", "color": "black", "opacity": 1, "size": 37},
                      "encoding": {
                        "x": {"field": "x", "type": "quantitative", "axis": null},
                        "y": {"field": "y", "type": "quantitative", "axis": null}
                      }
                    }
                  ],
                  "resolve": {"axis": {"x": "independent", "y": "independent"}}
                }
              ]
            },
            {
              "spacing": 0,
              "vconcat": [
                {
                  "width": 238, "height": 24,
                  "data": {"values": [{"label": "MR sample"}]},
                  "mark": {"type": "text", "fontSize": 18.5, "color": "black", "baseline": "middle", "dy": 1},
                  "encoding": {"text": {"field": "label"}},
                  "view": {"fill": "#cccccc", "stroke": "#7f7f7f"}
                },
                {
                  "width": 238, "height": 280,
                  "data": {"name": "gc"},
                  "transform": [{"filter": "datum.s == 'MR'"}],
                  "layer": [
                    {
                      "mark": {"type": "rule", "color": "#bebebe", "strokeWidth": 3.5},
                      "encoding": {
                        "x": {"field": "x", "type": "quantitative", "scale": {"domain": [-0.044, 0.924], "nice": false, "zero": false},
                              "axis": {"orient": "top", "values": [0.1, 0.3, 0.5, 0.7, 0.9], "labels": false, "ticks": false, "domain": false, "title": null, "gridColor": "#f4f4f4"}},
                        "y": {"field": "lo", "type": "quantitative", "scale": {"domain": [-3.75, 31.9], "nice": false, "zero": false},
                              "axis": {"orient": "right", "values": [-2.5, 2.5, 7.5, 12.5, 17.5, 22.5, 27.5], "labels": false, "ticks": false, "domain": false, "title": null, "gridColor": "#f4f4f4"}},
                        "y2": {"field": "hi"}
                      }
                    },
                    {
                      "mark": {"type": "circle", "color": "#b3b3b3", "opacity": 1, "size": 80},
                      "encoding": {
                        "x": {"field": "x", "type": "quantitative", "axis": {"orient": "bottom", "values": [0, 0.2, 0.4, 0.6, 0.8], "format": ".1f", "title": null}},
                        "y": {"field": "y", "type": "quantitative", "axis": {"orient": "left", "values": [0, 5, 10, 15, 20, 25, 30], "labels": false, "ticks": false, "title": null}}
                      }
                    },
                    {
                      "mark": {"type": "circle", "color": "black", "opacity": 1, "size": 37},
                      "encoding": {
                        "x": {"field": "x", "type": "quantitative", "axis": null},
                        "y": {"field": "y", "type": "quantitative", "axis": null}
                      }
                    }
                  ],
                  "resolve": {"axis": {"x": "independent", "y": "independent"}}
                }
              ]
            }
          ]
        }
      ]
    }
  ]
}
